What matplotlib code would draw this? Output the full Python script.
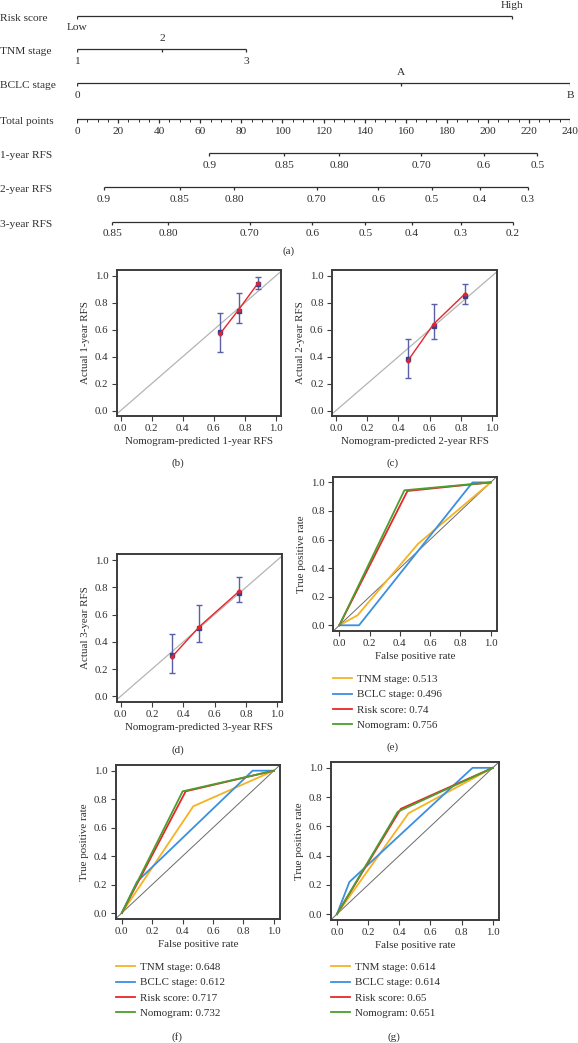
import matplotlib
matplotlib.use("Agg")
import matplotlib.pyplot as plt
import matplotlib.transforms as mtransforms

plt.rcParams['font.family'] = ['Liberation Serif', 'DejaVu Serif']

# ---------------- data ----------------
risk_pts = [0, 212]
risk_lbls = ["Low", "High"]
tnm_pts = [0, 41.5, 82.5]
tnm_lbls = ["1", "2", "3"]
bclc_pts = [0, 157.6, 240]
bclc_lbls = ["0", "A", "B"]
total_major = list(range(0, 241, 20))
total_minor = list(range(0, 241, 5))
rfs1_probs = ["0.9", "0.85", "0.80", "0.70", "0.6", "0.5"]
rfs1_pts = [64.4, 101, 127.6, 167.6, 198, 224.1]
rfs2_probs = ["0.9", "0.85", "0.80", "0.70", "0.6", "0.5", "0.4", "0.3"]
rfs2_pts = [13.2, 50, 76.5, 116.6, 146.7, 172.9, 196.2, 219.6]
rfs3_probs = ["0.85", "0.80", "0.70", "0.6", "0.5", "0.4", "0.3", "0.2"]
rfs3_pts = [17.1, 44.4, 84.1, 114.6, 140.4, 163.1, 186.8, 212.2]

b_pred = [0.637, 0.759, 0.883]
b_fit = [0.565, 0.747, 0.943]
b_obs = [0.582, 0.737, 0.939]
b_lo = [0.435, 0.649, 0.902]
b_hi = [0.725, 0.872, 0.993]

c_pred = [0.459, 0.625, 0.823]
c_fit = [0.368, 0.642, 0.863]
c_obs = [0.382, 0.630, 0.850]
c_lo = [0.245, 0.527, 0.792]
c_hi = [0.534, 0.789, 0.941]

d_pred = [0.330, 0.503, 0.755]
d_fit = [0.292, 0.512, 0.770]
d_obs = [0.301, 0.500, 0.762]
d_lo = [0.174, 0.395, 0.689]
d_hi = [0.458, 0.667, 0.873]

roc_names = ["TNM stage", "BCLC stage", "Risk score", "Nomogram"]
e_fpr = [[0, 0.12, 0.52, 1], [0, 0.13, 0.88, 1], [0, 0.45, 1], [0, 0.43, 1]]
e_tpr = [[0, 0.07, 0.57, 1], [0, 0.0, 1.0, 1], [0, 0.94, 1], [0, 0.945, 1]]
e_auc = ["0.513", "0.496", "0.74", "0.756"]
f_fpr = [[0, 0.47, 1], [0, 0.10, 0.86, 1], [0, 0.42, 1], [0, 0.40, 1]]
f_tpr = [[0, 0.75, 1], [0, 0.22, 1.0, 1], [0, 0.855, 1], [0, 0.855, 1]]
f_auc = ["0.648", "0.612", "0.717", "0.732"]
g_fpr = [[0, 0.46, 1], [0, 0.08, 0.87, 1], [0, 0.41, 1], [0, 0.39, 1]]
g_tpr = [[0, 0.69, 1], [0, 0.22, 1.0, 1], [0, 0.72, 1], [0, 0.70, 1]]
g_auc = ["0.614", "0.614", "0.65", "0.651"]

# ---------------- style ----------------
W, H = 578, 1043
fig = plt.figure(figsize=(W / 100, H / 100), dpi=100)
INK = "#2e2e2e"
SPINE = "#3c3c3c"
roc_colors = ["#f5b324", "#3b8fe0", "#e8262b", "#4c9e2f"]
FS_NOM = 8.2
FS_TICK = 7.8
FS_LAB = 7.9


def axes_px(l, t, r, b):
    return fig.add_axes([l / W, 1 - b / H, (r - l) / W, (b - t) / H])


def label_px(x, y, s):
    fig.text(x / W, 1 - y / H, s, ha="center", va="center", fontsize=FS_LAB, color=INK)


# ---------------- nomogram ----------------
nax = axes_px(77, 0, 570, 262)
nax.set_xlim(0, 240)
nax.set_ylim(262, 0)
nax.axis("off")
lab_tr = mtransforms.blended_transform_factory(fig.transFigure, nax.transData)


def nomo_row(y, name, pts, lbls, sides):
    nax.plot([min(pts), max(pts)], [y, y], color=INK, lw=0.9, solid_capstyle="butt")
    nax.vlines(pts, y, y + 3, color=INK, lw=0.9)
    for p, l, s in zip(pts, lbls, sides):
        nax.text(p, y - 10.5 if s == "up" else y + 12, l, ha="center", va="center",
                 fontsize=FS_NOM, color=INK, clip_on=False)
    fig.text(0, y + 2.5, name, transform=lab_tr, fontsize=FS_NOM, color=INK, va="center")


nomo_row(16, "Risk score", risk_pts, risk_lbls, ["down", "up"])
nomo_row(49, "TNM stage", tnm_pts, tnm_lbls, ["down", "up", "down"])
nomo_row(83, "BCLC stage", bclc_pts, bclc_lbls, ["down", "up", "down"])

# total points
ty = 119
nax.plot([0, 240], [ty, ty], color=INK, lw=0.9)
nax.vlines(total_minor, ty, ty + 2.5, color=INK, lw=0.7)
nax.vlines(total_major, ty, ty + 3.5, color=INK, lw=0.9)
for v in total_major:
    nax.text(v, ty + 12, str(v), ha="center", va="center", fontsize=FS_NOM, color=INK)
fig.text(0, ty + 2.5, "Total points", transform=lab_tr, fontsize=FS_NOM, color=INK, va="center")

for y, name, pts, lbls in [(153, "1-year RFS", rfs1_pts, rfs1_probs),
                           (187, "2-year RFS", rfs2_pts, rfs2_probs),
                           (222, "3-year RFS", rfs3_pts, rfs3_probs)]:
    nomo_row(y, name, pts, lbls, ["down"] * len(pts))

label_px(289, 251, "(a)")


# ---------------- common axes styling ----------------
def style_ax(ax, xlim, ylim):
    ax.set_xlim(*xlim)
    ax.set_ylim(*ylim)
    ticks = [0, 0.2, 0.4, 0.6, 0.8, 1.0]
    ax.set_xticks(ticks)
    ax.set_yticks(ticks)
    ax.set_xticklabels([f"{v:.1f}" for v in ticks])
    ax.set_yticklabels([f"{v:.1f}" for v in ticks])
    for s in ax.spines.values():
        s.set_color(SPINE)
        s.set_linewidth(1.4)
    ax.tick_params(length=3.5, width=0.8, color=SPINE, labelsize=FS_TICK,
                   labelcolor=INK, pad=2.5)


def calib(ax, pred, fit, obs, lo, hi, xlabel, ylabel):
    style_ax(ax, (-0.025, 1.03), (-0.04, 1.045))
    ax.axline((0, 0), (1, 1), color="#b4b4b4", lw=0.9, zorder=1)
    yerr = [[o - l for o, l in zip(obs, lo)], [h - o for o, h in zip(obs, hi)]]
    ax.errorbar(pred, obs, yerr=yerr, fmt="s", ms=2.2, color="#3a3f8f", ecolor="#5a5fa8",
                elinewidth=1.0, capsize=2, capthick=1.0, zorder=3)
    ax.plot(pred, fit, color="#e3262b", lw=1.0, marker="o", ms=2.0, zorder=4)
    ax.set_xlabel(xlabel, fontsize=FS_LAB, color=INK, labelpad=2.5)
    ax.set_ylabel(ylabel, fontsize=FS_LAB, color=INK, labelpad=3.5)


axb = axes_px(116.7, 269.6, 280.7, 416)
calib(axb, b_pred, b_fit, b_obs, b_lo, b_hi, "Nomogram-predicted 1-year RFS", "Actual 1-year RFS")
label_px(178, 463, "(b)")

axc = axes_px(332, 269.6, 497, 416)
calib(axc, c_pred, c_fit, c_obs, c_lo, c_hi, "Nomogram-predicted 2-year RFS", "Actual 2-year RFS")
label_px(393, 463, "(c)")

axd = axes_px(116.7, 554, 282, 701.7)
calib(axd, d_pred, d_fit, d_obs, d_lo, d_hi, "Nomogram-predicted 3-year RFS", "Actual 3-year RFS")
label_px(178, 750, "(d)")


def roc(ax, fprs, tprs, aucs, leg_x, leg_y):
    style_ax(ax, (-0.04, 1.04), (-0.04, 1.04))
    ax.axline((0, 0), (1, 1), color="#6a6a6a", lw=0.7, zorder=1)
    handles = []
    for fp, tp, c, n, a in zip(fprs, tprs, roc_colors, roc_names, aucs):
        h, = ax.plot(fp, tp, color=c, lw=1.3, label=f"{n}: {a}")
        handles.append(h)
    ax.set_xlabel("False positive rate", fontsize=FS_LAB, color=INK, labelpad=2.5)
    ax.set_ylabel("True positive rate", fontsize=FS_LAB, color=INK, labelpad=3.5)
    leg = ax.legend(handles=handles, loc="upper left",
                    bbox_to_anchor=(leg_x / W, 1 - leg_y / H),
                    bbox_transform=fig.transFigure, frameon=False,
                    fontsize=FS_LAB, handlelength=1.75, handletextpad=0.45,
                    labelspacing=0.5, borderpad=0, borderaxespad=0)
    for txt in leg.get_texts():
        txt.set_color(INK)


axe = axes_px(333.3, 476.7, 496.7, 631)
roc(axe, e_fpr, e_tpr, e_auc, 333, 674.5)
label_px(393, 747, "(e)")

axf = axes_px(115.7, 765, 280, 918.7)
roc(axf, f_fpr, f_tpr, f_auc, 116, 962.5)
label_px(177, 1037, "(f)")

axg = axes_px(330.7, 762, 499, 920)
roc(axg, g_fpr, g_tpr, g_auc, 331, 962.5)
label_px(394, 1037, "(g)")

fig.savefig("out.png", dpi=100, facecolor="white")
